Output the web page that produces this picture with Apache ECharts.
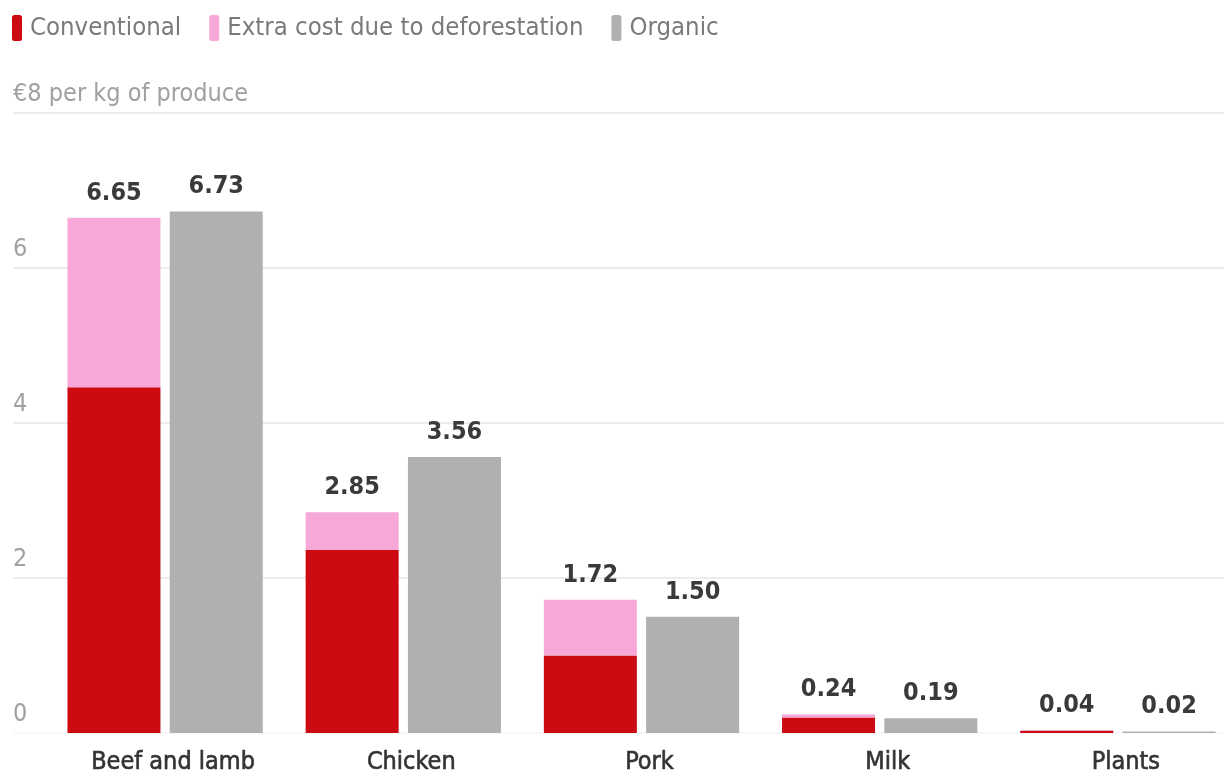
<!DOCTYPE html>
<html>
<head>
<meta charset="utf-8">
<script src="https://cdn.jsdelivr.net/npm/echarts@6/dist/echarts.min.js"></script>
<style>
html,body{margin:0;padding:0;background:#fff;}
#chart{width:1224px;height:778px;}
</style>
</head>
<body>
<div id="chart"></div>
<script>
const categories = ['Beef and lamb', 'Chicken', 'Pork', 'Milk', 'Plants'];
const conventional = [4.46, 2.36, 1.00, 0.20, 0.03];
const extraDeforestation = [2.19, 0.49, 0.72, 0.04, 0.01];
const organic = [6.73, 3.56, 1.50, 0.19, 0.02];
const conventionalTotalLabels = ['6.65', '2.85', '1.72', '0.24', '0.04'];
const organicLabels = ['6.73', '3.56', '1.50', '0.19', '0.02'];
const yTicks = [0, 2, 4, 6, 8];

const FONT = '"DejaVu Sans Condensed", "Liberation Sans Narrow", "Noto Sans", sans-serif';
const RED = '#cc0a12', PINK = '#f8a8d8', GREY = '#b0b0b0';

const chart = echarts.init(document.getElementById('chart'));
const valueLabel = {
  show: true, position: 'top', distance: 12,
  fontFamily: FONT, fontSize: 25, fontWeight: 'bold', color: '#3a3a3a'
};
chart.setOption({
  animation: false,
  textStyle: { fontFamily: FONT },
  legend: {
    left: 7, top: 10, itemWidth: 10, itemHeight: 26, itemGap: 28,
    icon: 'roundRect',
    textStyle: { fontFamily: FONT, fontSize: 25.5, color: '#7a7a7a', padding: [0, 0, 0, 3] },
    data: ['Conventional', 'Extra cost due to deforestation', 'Organic']
  },
  grid: [
    { left: 46, right: -13, top: 113, bottom: 45, outerBoundsMode: 'none', containLabel: false },
    { left: 13, right: 0, top: 113, bottom: 45, outerBoundsMode: 'none', containLabel: false }
  ],
  xAxis: [
    {
      type: 'category', gridIndex: 0, data: categories,
      axisLine: { show: false }, axisTick: { show: false },
      axisLabel: {
        interval: 0, hideOverlap: false, fontFamily: FONT, fontSize: 25, color: '#333', margin: 17,
        padding: [0, 0, 0, 16],
        textBorderColor: '#333', textBorderWidth: 0.6
      }
    },
    { type: 'value', gridIndex: 1, show: false, min: 0, max: 1 }
  ],
  yAxis: [
    { type: 'value', gridIndex: 0, min: 0, max: 8, interval: 2, show: false },
    {
      type: 'value', gridIndex: 1, min: 0, max: 8, interval: 2,
      axisLine: { show: false }, axisTick: { show: false },
      axisLabel: {
        inside: true, margin: 0, verticalAlign: 'bottom', padding: [0, 0, 6, 0],
        fontFamily: FONT, fontSize: 25, color: '#a0a0a0',
        formatter: v => v === 8 ? '€8 per kg of produce' : String(v)
      },
      splitLine: { lineStyle: { color: ['rgba(0,0,0,0.03)', '#ececec', '#ececec', '#ececec', '#ececec'], width: 2 } }
    }
  ],
  series: [
    {
      name: 'Conventional', type: 'bar', stack: 'conv', xAxisIndex: 0, yAxisIndex: 0,
      barWidth: 93, barGap: '10%', itemStyle: { color: RED }, data: conventional
    },
    {
      name: 'Extra cost due to deforestation', type: 'bar', stack: 'conv', xAxisIndex: 0, yAxisIndex: 0,
      barWidth: 93, itemStyle: { color: PINK }, data: extraDeforestation,
      label: Object.assign({}, valueLabel, { formatter: p => conventionalTotalLabels[p.dataIndex] })
    },
    {
      name: 'Organic', type: 'bar', xAxisIndex: 0, yAxisIndex: 0,
      barWidth: 93, barGap: '10%', itemStyle: { color: GREY }, data: organic,
      label: Object.assign({}, valueLabel, { formatter: p => organicLabels[p.dataIndex] })
    }
  ]
});
</script>
</body>
</html>
